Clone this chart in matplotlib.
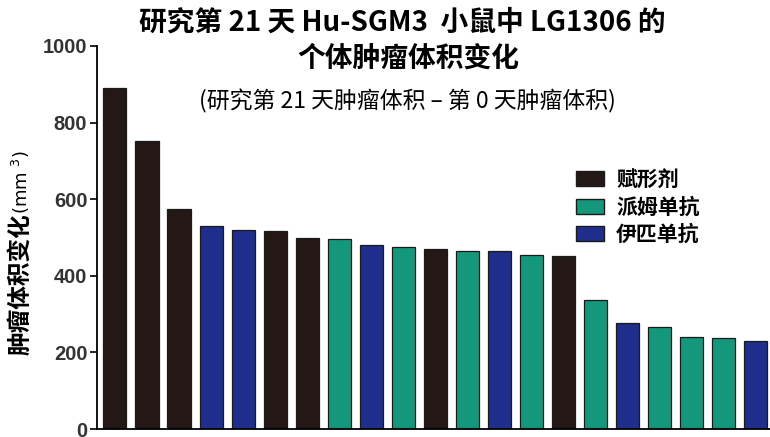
import matplotlib
matplotlib.use("Agg")
import matplotlib.pyplot as plt
from matplotlib.patches import Patch

plt.rcParams['font.family'] = ['Noto Sans CJK SC', 'DejaVu Sans']

# 各小鼠第 21 天与第 0 天肿瘤体积之差 (mm^3)，按降序排列
volume_change = [890, 752, 574, 530, 520, 516, 500, 496, 481, 476, 471,
                 466, 466, 455, 452, 338, 277, 266, 240, 238, 230]
group = ['veh', 'veh', 'veh', 'ipi', 'ipi', 'veh', 'veh', 'pem', 'ipi', 'pem', 'veh',
         'pem', 'ipi', 'pem', 'veh', 'pem', 'ipi', 'pem', 'pem', 'pem', 'ipi']

group_names = {'veh': '赋形剂', 'pem': '派姆单抗', 'ipi': '伊匹单抗'}
group_colors = {'veh': '#231815', 'pem': '#14977b', 'ipi': '#1f2e8a'}
yticks = [0, 200, 400, 600, 800, 1000]

fig = plt.figure(figsize=(7.7, 4.37), dpi=100)
ax = fig.add_axes([0.126, 0.018, 0.874, 0.877])

x = list(range(len(volume_change)))
ax.bar(x, volume_change, width=0.72,
       color=[group_colors[g] for g in group],
       edgecolor='#1a1a1a', linewidth=0.9)

ax.set_xlim(-0.56, 20.45)
ax.set_ylim(0, 1000)
ax.set_yticks(yticks)
ax.set_yticklabels([str(t) for t in yticks], family='Liberation Sans',
                   fontsize=14.5, fontweight='bold', color='#333333')
ax.set_xticks([])
ax.tick_params(axis='y', direction='out', length=5, width=1.2, pad=2)
for side in ('top', 'right'):
    ax.spines[side].set_visible(False)
ax.spines['left'].set_linewidth(1.3)
ax.spines['bottom'].set_linewidth(1.3)

# 图例
handles = [Patch(facecolor=group_colors[k], edgecolor='#1a1a1a', label=group_names[k])
           for k in ('veh', 'pem', 'ipi')]
leg = ax.legend(handles=handles, loc='upper left', bbox_to_anchor=(0.70, 0.70),
                frameon=False, handlelength=1.3, handleheight=0.72,
                handletextpad=0.6, labelspacing=0.3, borderaxespad=0,
                prop={'family': 'Noto Sans CJK SC', 'size': 15, 'weight': 'bold'})

# 标题
fig.text(0.522, 0.948, '研究第 21 天 Hu-SGM3  小鼠中 LG1306 的', ha='center', va='center',
         fontsize=20, fontweight='bold')
fig.text(0.53, 0.866, '个体肿瘤体积变化', ha='center', va='center',
         fontsize=20, fontweight='bold')
fig.text(0.529, 0.768, '(研究第 21 天肿瘤体积 – 第 0 天肿瘤体积)', ha='center', va='center',
         fontsize=16.5, family=['Noto Sans CJK SC', 'DejaVu Sans'])

# 纵轴标题：粗体中文 + 常规单位
fig.text(0.027, 0.187, '肿瘤体积变化', rotation=90, ha='center', va='bottom',
         fontsize=17, fontweight='bold')
fig.text(0.027, 0.51, '(mm $^{3}$)', rotation=90, ha='center', va='bottom',
         fontsize=13, family='DejaVu Sans')

fig.savefig('out.png', dpi=100)
